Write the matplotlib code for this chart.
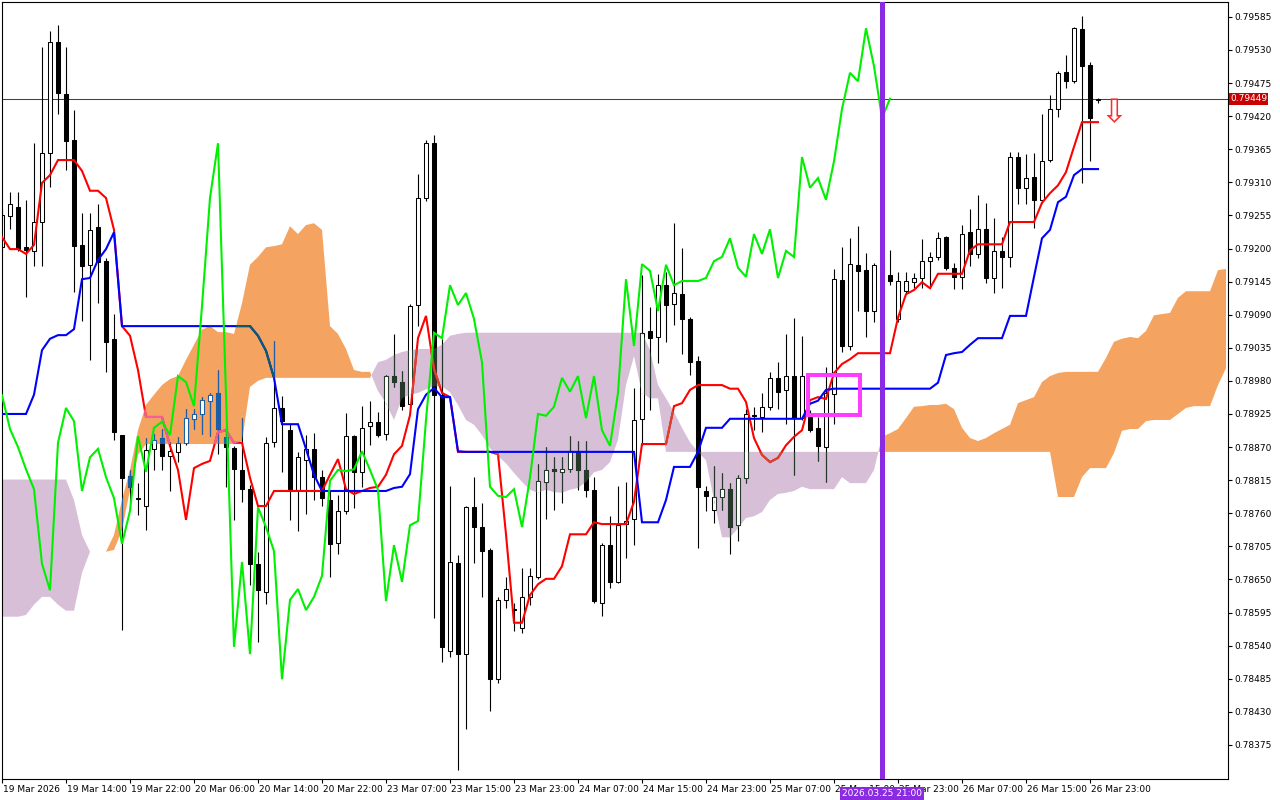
import numpy as np
import matplotlib
matplotlib.use("Agg")
import matplotlib.pyplot as plt
import matplotlib.transforms as mtransforms
from matplotlib.path import Path
from matplotlib.patches import Rectangle

# ====================== data (H1 bars, prices) ======================
open_ = [
    0.79202, 0.79254, 0.79269, 0.79202, 0.79196, 0.79244, 0.79359, 0.79543, 0.79457, 0.79380,
    0.79206, 0.79173, 0.79236, 0.79179, 0.79050, 0.78890, 0.78822, 0.78785, 0.78772, 0.78867,
    0.78885, 0.78855, 0.78862, 0.78877, 0.78917, 0.78925, 0.78947, 0.78960, 0.78887, 0.78868,
    0.78832, 0.78800, 0.78676, 0.78629, 0.78878, 0.78935, 0.78898, 0.78799, 0.78848, 0.78867,
    0.78820, 0.78782, 0.78710, 0.78764, 0.78888, 0.78829, 0.78905, 0.78912, 0.78892, 0.78988,
    0.78978, 0.78942, 0.79106, 0.79284, 0.79375, 0.78957, 0.78531, 0.78677, 0.78526, 0.78770,
    0.78737, 0.78699, 0.78484, 0.78616, 0.78601, 0.78569, 0.78621, 0.78654, 0.78812, 0.78833,
    0.78829, 0.78833, 0.78862, 0.78832, 0.78799, 0.78611, 0.78707, 0.78646, 0.78742, 0.78750,
    0.78917, 0.79063, 0.79053, 0.79139, 0.79108, 0.79124, 0.79083, 0.79013, 0.78797, 0.78765,
    0.78787, 0.78800, 0.78740, 0.78819, 0.78923, 0.78920, 0.78937, 0.78985, 0.78965, 0.78988,
    0.78918, 0.78920, 0.78902, 0.78870, 0.78958, 0.79148, 0.79038, 0.79173, 0.79164, 0.79096,
    0.79173, 0.79156, 0.79083, 0.79129, 0.79144, 0.79151, 0.79179, 0.79186, 0.79219, 0.79168,
    0.79153, 0.79227, 0.79191, 0.79232, 0.79151, 0.79196, 0.79186, 0.79352, 0.79301, 0.79319,
    0.79281, 0.79347, 0.79432, 0.79493, 0.79478, 0.79565, 0.79505, 0.79447]
high = [
    0.79264, 0.79294, 0.79294, 0.79281, 0.79375, 0.79535, 0.79561, 0.79571, 0.79535, 0.79430,
    0.79259, 0.79259, 0.79274, 0.79184, 0.79091, 0.78890, 0.78832, 0.78810, 0.78885, 0.78892,
    0.78900, 0.78878, 0.78887, 0.78933, 0.78933, 0.78953, 0.78960, 0.78998, 0.78903, 0.78872,
    0.78918, 0.78807, 0.78696, 0.78887, 0.79046, 0.78955, 0.78908, 0.78862, 0.78890, 0.78893,
    0.78832, 0.78797, 0.78790, 0.78927, 0.78890, 0.78938, 0.78947, 0.78928, 0.78990, 0.79058,
    0.78996, 0.79108, 0.79324, 0.79380, 0.79389, 0.79050, 0.78805, 0.78691, 0.78772, 0.78820,
    0.78777, 0.78702, 0.78621, 0.78654, 0.78611, 0.78669, 0.78669, 0.78842, 0.78870, 0.78853,
    0.78853, 0.78888, 0.78880, 0.78880, 0.78820, 0.78710, 0.78755, 0.78805, 0.78812, 0.78968,
    0.79156, 0.79103, 0.79158, 0.79161, 0.79242, 0.79201, 0.79086, 0.79021, 0.78805, 0.78838,
    0.78827, 0.78810, 0.78824, 0.78933, 0.78937, 0.78960, 0.78995, 0.79011, 0.79058, 0.79085,
    0.79055, 0.78932, 0.78920, 0.79003, 0.79166, 0.79203, 0.79217, 0.79237, 0.79192, 0.79176,
    0.79189, 0.79197, 0.79161, 0.79161, 0.79159, 0.79216, 0.79194, 0.79227, 0.79221, 0.79176,
    0.79239, 0.79266, 0.79289, 0.79276, 0.79251, 0.79219, 0.79360, 0.79360, 0.79357, 0.79359,
    0.79423, 0.79455, 0.79495, 0.79522, 0.79568, 0.79586, 0.79510, 0.79450]
low = [
    0.79197, 0.79232, 0.79196, 0.79119, 0.79171, 0.79171, 0.79302, 0.79423, 0.79330, 0.79128,
    0.79079, 0.79015, 0.79109, 0.78995, 0.78882, 0.78566, 0.78777, 0.78757, 0.78732, 0.78832,
    0.78832, 0.78797, 0.78845, 0.78873, 0.78900, 0.78892, 0.78888, 0.78858, 0.78804, 0.78749,
    0.78779, 0.78641, 0.78546, 0.78609, 0.78870, 0.78829, 0.78749, 0.78730, 0.78759, 0.78782,
    0.78772, 0.78654, 0.78692, 0.78759, 0.78769, 0.78804, 0.78873, 0.78887, 0.78882, 0.78970,
    0.78932, 0.78938, 0.79071, 0.79279, 0.78586, 0.78513, 0.78521, 0.78333, 0.78401, 0.78677,
    0.78621, 0.78431, 0.78478, 0.78602, 0.78564, 0.78561, 0.78607, 0.78651, 0.78750, 0.78765,
    0.78777, 0.78829, 0.78799, 0.78787, 0.78611, 0.78589, 0.78636, 0.78644, 0.78686, 0.78707,
    0.78873, 0.78932, 0.79010, 0.79045, 0.79073, 0.79025, 0.78990, 0.78702, 0.78764, 0.78744,
    0.78765, 0.78692, 0.78714, 0.78810, 0.78898, 0.78895, 0.78932, 0.78933, 0.78908, 0.78824,
    0.78915, 0.78895, 0.78847, 0.78812, 0.78908, 0.79028, 0.79031, 0.79096, 0.79053, 0.79078,
    0.79114, 0.79139, 0.79078, 0.79124, 0.79134, 0.79134, 0.79134, 0.79181, 0.79164, 0.79133,
    0.79133, 0.79171, 0.79184, 0.79143, 0.79126, 0.79134, 0.79169, 0.79274, 0.79274, 0.79234,
    0.79276, 0.79344, 0.79418, 0.79467, 0.79475, 0.79309, 0.79345, 0.79442]
close = [
    0.79256, 0.79274, 0.79199, 0.79197, 0.79244, 0.79359, 0.79543, 0.79458, 0.79379, 0.79204,
    0.79171, 0.79231, 0.79178, 0.79045, 0.78895, 0.78819, 0.78804, 0.78783, 0.78865, 0.78882,
    0.78855, 0.78863, 0.78877, 0.78918, 0.78925, 0.78948, 0.78956, 0.78900, 0.78870, 0.78833,
    0.78800, 0.78676, 0.78632, 0.78877, 0.78935, 0.78913, 0.78797, 0.78853, 0.78867, 0.78820,
    0.78785, 0.78709, 0.78764, 0.78888, 0.78829, 0.78902, 0.78912, 0.78890, 0.78988, 0.78978,
    0.78938, 0.79104, 0.79284, 0.79375, 0.78957, 0.78538, 0.78679, 0.78526, 0.78770, 0.78737,
    0.78697, 0.78484, 0.78616, 0.78634, 0.78599, 0.78621, 0.78656, 0.78814, 0.78832, 0.78830,
    0.78833, 0.78863, 0.78832, 0.78799, 0.78614, 0.78707, 0.78646, 0.78740, 0.78747, 0.78915,
    0.79060, 0.79051, 0.79139, 0.79106, 0.79126, 0.79083, 0.79011, 0.78804, 0.78789, 0.78787,
    0.78800, 0.78737, 0.78819, 0.78925, 0.78922, 0.78937, 0.78985, 0.78962, 0.78988, 0.78918,
    0.78988, 0.78898, 0.78872, 0.78960, 0.79149, 0.79038, 0.79174, 0.79163, 0.79096, 0.79173,
    0.79139, 0.79146, 0.79146, 0.79146, 0.79151, 0.79179, 0.79186, 0.79217, 0.79168, 0.79153,
    0.79224, 0.79191, 0.79232, 0.79151, 0.79196, 0.79186, 0.79352, 0.79301, 0.79317, 0.79281,
    0.79345, 0.79432, 0.79492, 0.79478, 0.79566, 0.79503, 0.79417, 0.79449]

# Ichimoku lines
tenkan = [
    0.79219, 0.79199, 0.79199, 0.79191, 0.79206, 0.79309, 0.79322, 0.79347, 0.79347, 0.79347,
    0.79329, 0.79296, 0.79296, 0.79284, 0.79231, 0.79071, 0.79055, 0.78998, 0.78920, 0.78920,
    0.78920, 0.78872, 0.78832, 0.78749, 0.78835, 0.78842, 0.78847, 0.78895, 0.78898, 0.78877,
    0.78877, 0.78819, 0.78772, 0.78772, 0.78797, 0.78797, 0.78797, 0.78797, 0.78797, 0.78797,
    0.78797, 0.78824, 0.78850, 0.78800, 0.78792, 0.78797, 0.78802, 0.78804, 0.78824, 0.78858,
    0.78872, 0.78923, 0.79051, 0.79088, 0.79000, 0.78960, 0.78953, 0.78862, 0.78862, 0.78862,
    0.78862, 0.78862, 0.78858, 0.78725, 0.78578, 0.78578, 0.78624, 0.78642, 0.78651, 0.78651,
    0.78672, 0.78725, 0.78725, 0.78725, 0.78745, 0.78742, 0.78742, 0.78742, 0.78742, 0.78779,
    0.78875, 0.78875, 0.78875, 0.78875, 0.78938, 0.78943, 0.78965, 0.78973, 0.78973, 0.78973,
    0.78973, 0.78967, 0.78967, 0.78945, 0.78885, 0.78857, 0.78845, 0.78852, 0.78873, 0.78887,
    0.78898, 0.78948, 0.78953, 0.78950, 0.78993, 0.79008, 0.79016, 0.79026, 0.79026, 0.79026,
    0.79026, 0.79026, 0.79085, 0.79124, 0.79131, 0.79144, 0.79134, 0.79158, 0.79158, 0.79158,
    0.79158, 0.79197, 0.79207, 0.79207, 0.79207, 0.79207, 0.79244, 0.79244, 0.79244, 0.79244,
    0.79276, 0.79292, 0.79305, 0.79327, 0.79369, 0.79410, 0.79410, 0.79410]
kijun = (
    [0.78925] * 4 + [0.78957, 0.79031, 0.79050, 0.79056, 0.79056, 0.79066,
                     0.79149, 0.79151, 0.79181, 0.79199, 0.79227]
    + [0.79071] * 17
    + [0.79055, 0.79030, 0.78985, 0.78908, 0.78908, 0.78908, 0.78867, 0.78824]
    + [0.78797] * 9
    + [0.78802, 0.78804, 0.78825, 0.78933, 0.78957, 0.78968, 0.78953, 0.78953, 0.78863]
    + [0.78862] * 22
    + [0.78745, 0.78745, 0.78745, 0.78782, 0.78837, 0.78837, 0.78837, 0.78862,
       0.78902, 0.78902, 0.78902]
    + [0.78917] * 10
    + [0.78942, 0.78947, 0.78965]
    + [0.78967] * 13
    + [0.78977, 0.79023, 0.79026, 0.79028, 0.79040, 0.79051, 0.79051, 0.79051, 0.79051,
       0.79088, 0.79088, 0.79088, 0.79153, 0.79217, 0.79231, 0.79277, 0.79286, 0.79322,
       0.79332, 0.79332, 0.79332])
# Senkou spans (already shifted 26 bars forward)
span_a = [
    0.78588, 0.78588, 0.78588, 0.78591, 0.78608, 0.78621, 0.78621, 0.78608, 0.78598, 0.78598,
    0.78661, 0.78696, 0.78696, 0.78696, 0.78724, 0.78782, 0.78832, 0.78898, 0.78940, 0.78957,
    0.78973, 0.78983, 0.78988, 0.79015, 0.79040, 0.79065, 0.79071, 0.79061, 0.79061, 0.79058,
    0.79109, 0.79173, 0.79186, 0.79202, 0.79204, 0.79207, 0.79237, 0.79224, 0.79239, 0.79242,
    0.79231, 0.79071, 0.79058, 0.79033, 0.78998, 0.78995, 0.78995, 0.78963, 0.78943, 0.78915,
    0.78951, 0.78957, 0.78960, 0.78966, 0.78971, 0.78971, 0.78961, 0.78940, 0.78915, 0.78907,
    0.78890, 0.78868, 0.78855, 0.78843, 0.78827, 0.78812, 0.78799, 0.78794, 0.78799, 0.78795,
    0.78794, 0.78799, 0.78802, 0.78812, 0.78828, 0.78832, 0.78845, 0.78882, 0.78973, 0.79021,
    0.78960, 0.78951, 0.78951, 0.78862, 0.78862, 0.78862, 0.78862, 0.78862, 0.78848, 0.78782,
    0.78720, 0.78720, 0.78735, 0.78752, 0.78755, 0.78762, 0.78782, 0.78792, 0.78794, 0.78797,
    0.78804, 0.78800, 0.78800, 0.78800, 0.78800, 0.78820, 0.78810, 0.78810, 0.78810, 0.78832,
    0.78887, 0.78893, 0.78900, 0.78918, 0.78937, 0.78938, 0.78940, 0.78940, 0.78942, 0.78933,
    0.78902, 0.78885, 0.78880, 0.78885, 0.78893, 0.78900, 0.78907, 0.78943, 0.78948, 0.78953,
    0.78978, 0.78988, 0.78993, 0.78995, 0.78995, 0.78995, 0.78995, 0.78995, 0.79018, 0.79045,
    0.79050, 0.79053, 0.79051, 0.79063, 0.79089, 0.79091, 0.79093, 0.79118, 0.79129, 0.79129,
    0.79129, 0.79129, 0.79164, 0.79166]
span_b = (
    [0.78816] * 9 + [0.78782, 0.78724, 0.78696, 0.78696, 0.78696, 0.78699, 0.78732,
                     0.78799, 0.78857]
    + [0.78875] * 12
    + [0.78880, 0.78970, 0.78980]
    + [0.78985] * 14
    + [0.79011, 0.79015, 0.79023, 0.79028, 0.79031, 0.79033, 0.79033, 0.79033, 0.79040,
       0.79055, 0.79058]
    + [0.79060] * 23
    + [0.79031, 0.78973, 0.78951, 0.78928, 0.78902, 0.78878]
    + [0.78862] * 45
    + [0.78787, 0.78787, 0.78787, 0.78820, 0.78835, 0.78835, 0.78835, 0.78860, 0.78897,
       0.78900, 0.78900, 0.78913, 0.78915, 0.78915, 0.78915, 0.78925, 0.78935, 0.78938,
       0.78938, 0.78938, 0.78973, 0.79001])

chikou_shift = 26
tick_bars = list(range(0, 137, 8))
tick_labels = ["19 Mar 2026", "19 Mar 14:00", "19 Mar 22:00", "20 Mar 06:00", "20 Mar 14:00",
               "20 Mar 22:00", "23 Mar 07:00", "23 Mar 15:00", "23 Mar 23:00", "24 Mar 07:00",
               "24 Mar 15:00", "24 Mar 23:00", "25 Mar 07:00", "25 Mar 15:00", "25 Mar 23:00",
               "26 Mar 07:00", "26 Mar 15:00", "26 Mar 23:00"]
price_ticks = [round(0.78375 + 0.00055 * k, 5) for k in range(23)]
last_price = 0.79449
signal_bar = 110
signal_time = "2026.03.25 21:00"
box_bars = (100.75, 107.25)
box_prices = (0.78923, 0.78990)
arrow_bar, arrow_price = 139, 0.79425

# ====================== figure ======================
o, h, l, c = map(np.array, (open_, high, low, close))
bars = np.arange(len(c))
cloud_x = np.arange(len(span_a))
a, b = np.array(span_a), np.array(span_b)

fig = plt.figure(figsize=(12.8, 8), dpi=100)
ax = fig.add_axes([2 / 1280, 21 / 800, 1226 / 1280, 777 / 800])
ax.set_xlim(0, 153.25)
ax.set_ylim(0.783183, 0.796097)

# cloud
orange = ax.fill_between(cloud_x, a, b, where=a >= b, interpolate=True,
                         color='#F4A460', lw=0, zorder=1)
violet = ax.fill_between(cloud_x, a, b, where=a < b, interpolate=True,
                         color='#D8BFD8', lw=0, zorder=1)
orange_clip = Path.make_compound_path(*orange.get_paths())
violet_clip = Path.make_compound_path(*violet.get_paths())

# current price line
ax.axhline(last_price, color='#8E2020', lw=0.75, zorder=1.5)


def draw_candles(dark, zo, clip=None):
    up = c >= o
    wick = ax.vlines(bars, l, h, colors=dark, lw=0.8, zorder=zo)
    body = ax.bar(bars, np.abs(c - o), bottom=np.minimum(o, c), width=0.62,
                  color=np.where(up, 'white', dark), edgecolor=dark,
                  linewidth=0.75, zorder=zo + 0.01)
    if clip is not None:
        wick.set_clip_path(clip, ax.transData)
        for r in body:
            r.set_clip_path(clip, ax.transData)


draw_candles('black', 2)
draw_candles('#1C5FA8', 2.2, orange_clip)
draw_candles('#27392A', 2.2, violet_clip)


def draw_line(y, color, zo, x=bars, clip=None):
    ln, = ax.plot(x, y, color=color, lw=1.5, zorder=zo, solid_joinstyle='miter')
    if clip is not None:
        ln.set_clip_path(clip, ax.transData)


draw_line(tenkan, '#FF0000', 3.0)
draw_line(tenkan, '#F0609C', 3.01, clip=orange_clip)
draw_line(tenkan, '#D8432F', 3.01, clip=violet_clip)
draw_line(kijun, '#0000FF', 3.1)
draw_line(kijun, '#0B5C6A', 3.11, clip=orange_clip)
draw_line(c[chikou_shift:], '#00F000', 3.2, x=bars[:len(c) - chikou_shift])

# vertical time marker, box and signal arrow
ax.axvline(signal_bar, color='#8A2BE2', lw=3.6, zorder=5)
ax.add_patch(Rectangle((box_bars[0], box_prices[0]), box_bars[1] - box_bars[0],
                       box_prices[1] - box_prices[0], fill=False, ec='#FF3CFF',
                       lw=2.9, zorder=6))
ax.text(arrow_bar, arrow_price, '\u21e9', color='#FF2A2A', fontsize=23,
        ha='center', va='center', zorder=6)

# axes styling
for sp in ax.spines.values():
    sp.set_color('black')
    sp.set_linewidth(0.8)
ax.yaxis.tick_right()
ax.set_yticks(price_ticks)
ax.set_yticklabels([f'{p:.5f}' for p in price_ticks])
ax.set_xticks(tick_bars)
ax.set_xticklabels(tick_labels)
ax.tick_params(axis='both', length=3, width=0.8, labelsize=6.5, colors='black', pad=1.5)
offset = mtransforms.ScaledTranslation(1 / 100, 0, fig.dpi_scale_trans)
for lab in ax.get_xticklabels():
    lab.set_horizontalalignment('left')
    lab.set_transform(lab.get_transform() + offset)

# last price tag and time tag (the time tag sits over the axis labels, as in the terminal)
ax.text(1.0016, last_price, f'{last_price:.5f}', color='white', fontsize=6.5,
        ha='left', va='center', zorder=10, clip_on=False,
        transform=mtransforms.blended_transform_factory(ax.transAxes, ax.transData),
        bbox=dict(boxstyle='square,pad=0.15', fc='#C80000', ec='none'))
ax.text(signal_bar, -0.0185, signal_time, color='white', fontsize=6.5,
        ha='center', va='center', zorder=10, clip_on=False,
        transform=mtransforms.blended_transform_factory(ax.transData, ax.transAxes),
        bbox=dict(boxstyle='square,pad=0.2', fc='#8A2BE2', ec='none'))

fig.savefig('out.png', dpi=100, facecolor='white')
